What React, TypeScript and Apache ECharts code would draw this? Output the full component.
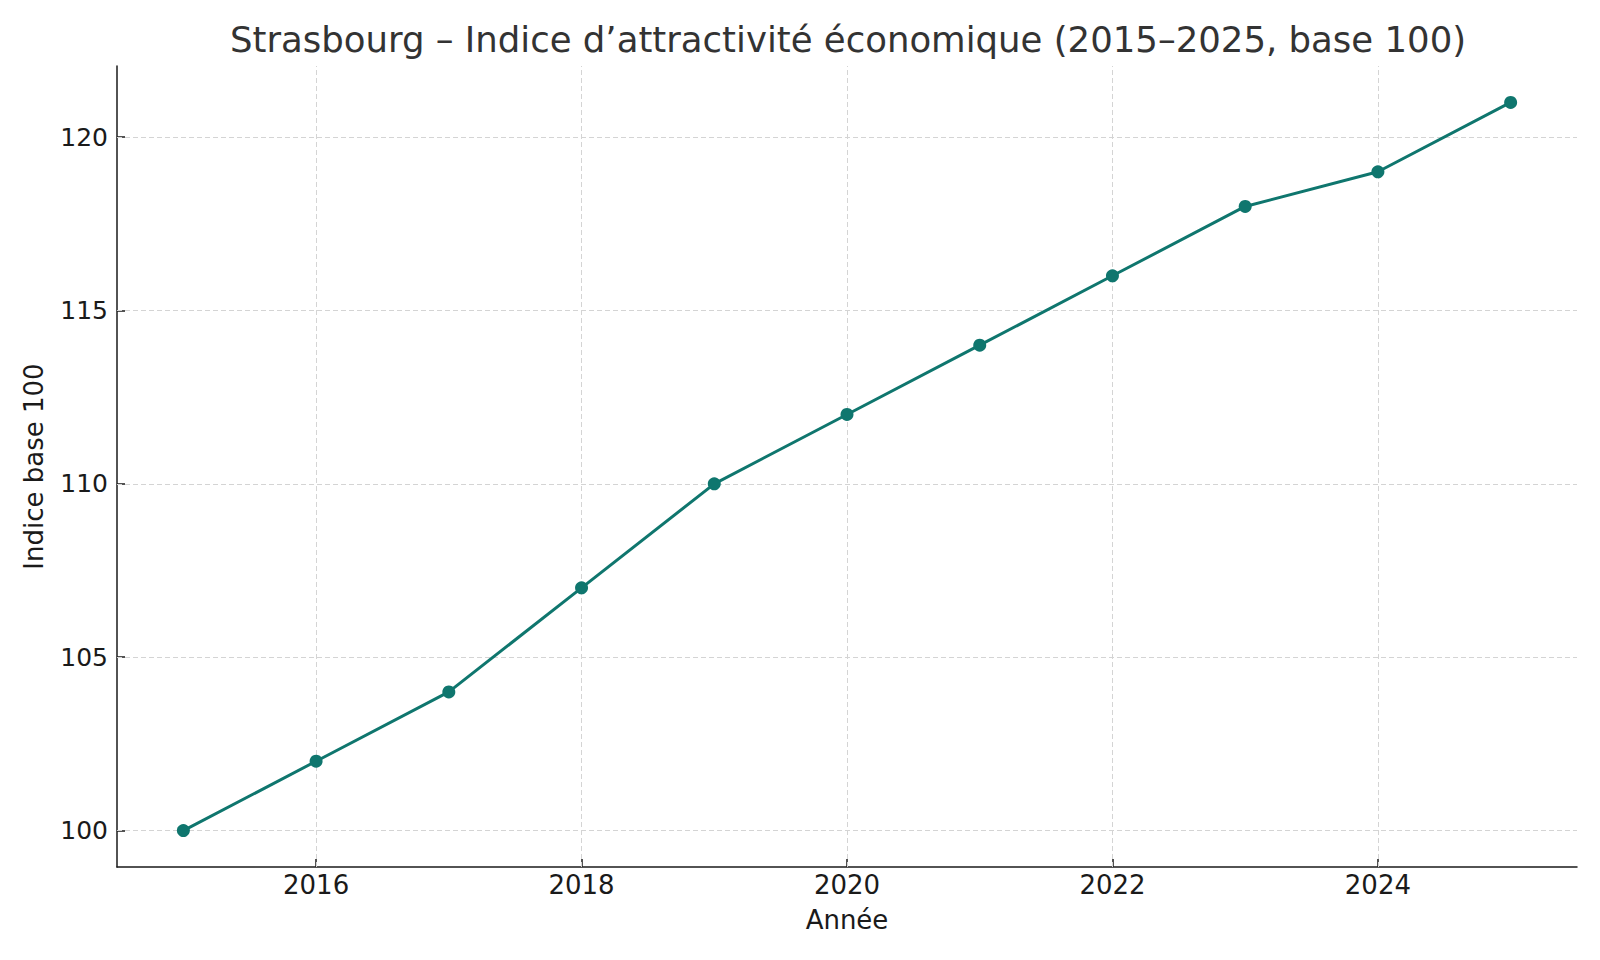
import React, { useEffect, useRef } from 'react'
import * as echarts from 'echarts'

const years = [2015, 2016, 2017, 2018, 2019, 2020, 2021, 2022, 2023, 2024, 2025]
const indexValues = [100, 102, 104, 107, 110, 112, 114, 116, 118, 119, 121]
const xTicks = [2016, 2018, 2020, 2022, 2024]
const yTicks = [100, 105, 110, 115, 120]

const FONT = 'DejaVu Sans'
const TEAL = '#0f766e'
const INK = '#1a1a1a'

export default function App(): JSX.Element {
  const ref = useRef<HTMLDivElement>(null)

  useEffect(() => {
    if (!ref.current) return
    const chart = echarts.init(ref.current, null, { renderer: 'svg' })
    const data = years.map((y, i) => [y, indexValues[i]])

    const axisCommon = {
      axisLine: { show: true, onZero: false, lineStyle: { color: INK, width: 1.5 } },
      splitLine: { show: false },
      nameTextStyle: { fontFamily: FONT, fontSize: 26, color: INK },
    }

    chart.setOption({
      animation: false,
      backgroundColor: '#ffffff',
      textStyle: { fontFamily: FONT },
      title: {
        text: 'Strasbourg – Indice d’attractivité économique (2015–2025, base 100)',
        left: 843, top: 16, textAlign: 'center',
        textStyle: { fontFamily: FONT, fontSize: 35.5, fontWeight: 'normal', color: '#333333' },
      },
      grid: { left: 117, right: 23, top: 66, bottom: 93 },
      xAxis: {
        ...axisCommon,
        type: 'value', min: 2014.5, max: 2025.5,
        name: 'Année', nameLocation: 'middle', nameGap: 40,
        axisTick: { show: true, inside: true, length: 8, customValues: xTicks, lineStyle: { color: INK, width: 1.5 } },
        axisLabel: { customValues: xTicks, margin: 5, fontFamily: FONT, fontSize: 26, color: INK, formatter: (v: number) => String(v) },
      },
      yAxis: {
        ...axisCommon,
        type: 'value', min: 98.95, max: 122.05,
        name: 'Indice base 100', nameLocation: 'middle', nameGap: 70, nameRotate: 90,
        axisTick: { show: true, inside: true, length: 8, customValues: yTicks, lineStyle: { color: INK, width: 1.5 } },
        axisLabel: { customValues: yTicks, margin: 9, fontFamily: FONT, fontSize: 25, color: INK },
      },
      series: [
        {
          // grid lines only
          type: 'line', data, z: 1, silent: true, symbol: 'none',
          lineStyle: { opacity: 0 },
          markLine: {
            z: 1, silent: true, symbol: ['none', 'none'], label: { show: false },
            lineStyle: { color: '#d4d4d4', type: [5, 3], width: 1 },
            emphasis: { disabled: true },
            data: [...xTicks.map(x => ({ xAxis: x })), ...yTicks.map(y => ({ yAxis: y }))],
          },
        },
        {
          type: 'line', data, z: 3,
          symbol: 'circle', symbolSize: 13,
          itemStyle: { color: TEAL },
          lineStyle: { color: TEAL, width: 3 },
        },
      ],
    })
    return () => chart.dispose()
  }, [])

  return <div ref={ref} style={{ position: 'absolute', left: 0, top: 0, width: 1600, height: 960 }} />
}
